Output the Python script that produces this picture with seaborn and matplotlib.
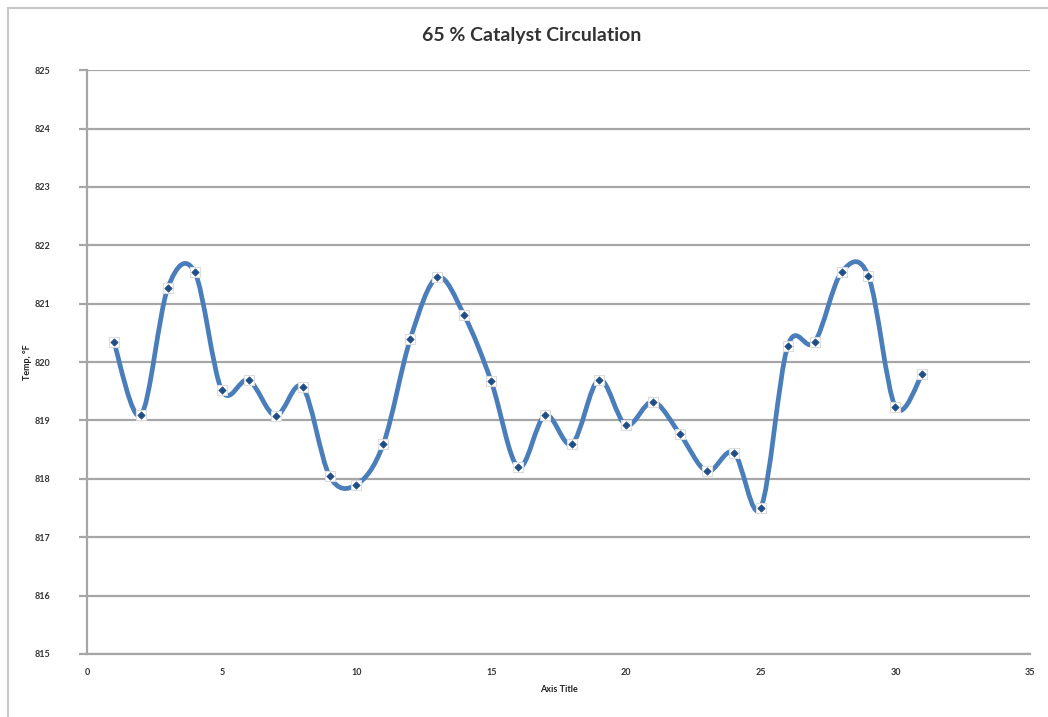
import numpy as np
import pandas as pd
import seaborn as sns
import matplotlib.pyplot as plt
from matplotlib.path import Path
from matplotlib.patches import PathPatch
from matplotlib.lines import Line2D

# data
sample = list(range(1, 32))
temp_f = [820.34, 819.09, 821.27, 821.54, 819.52, 819.69, 819.08, 819.57, 818.05, 817.90,
          818.60, 820.40, 821.45, 820.80, 819.67, 818.20, 819.09, 818.60, 819.70, 818.92,
          819.32, 818.77, 818.13, 818.45, 817.50, 820.27, 820.34, 821.54, 821.47, 819.23,
          819.80]
x_ticks = [0, 5, 10, 15, 20, 25, 30, 35]
y_ticks = [815, 816, 817, 818, 819, 820, 821, 822, 823, 824, 825]

df = pd.DataFrame({'sample': sample, 'temp': temp_f})

sns.set_style('white')
plt.rcParams['font.family'] = ['Lato', 'DejaVu Sans']

fig = plt.figure(figsize=(10.48, 7.17), dpi=100)
ax = fig.add_axes([0.083, 0.088, 0.900, 0.814])

line_col = '#4a7ebb'
grid_col = '#a6a6a6'

# smoothed line like Excel (cubic bezier through the points)
pts = df[['sample', 'temp']].to_numpy()
verts = [tuple(pts[0])]
codes = [Path.MOVETO]
for i in range(len(pts) - 1):
    p0 = pts[i - 1] if i > 0 else pts[i]
    p1 = pts[i]
    p2 = pts[i + 1]
    p3 = pts[i + 2] if i + 2 < len(pts) else pts[i + 1]
    c1 = p1 + (p2 - p0) / 6
    c2 = p2 - (p3 - p1) / 6
    verts += [tuple(c1), tuple(c2), tuple(p2)]
    codes += [Path.CURVE4] * 3
ax.add_patch(PathPatch(Path(verts, codes), facecolor='none', edgecolor=line_col,
                       lw=3.4, capstyle='round', zorder=3))

# markers: white box with a small dark point
sns.scatterplot(data=df, x='sample', y='temp', marker='s', s=60, color='white',
                edgecolor='#dcdcdc', linewidth=0.8, ax=ax, zorder=4)
sns.scatterplot(data=df, x='sample', y='temp', marker='D', s=14, color='#1f4e86',
                edgecolor='#1f4e86', linewidth=0.5, ax=ax, zorder=5)

ax.set_xlim(0, 35)
ax.set_ylim(815, 825)
ax.set_xticks(x_ticks)
ax.set_yticks(y_ticks)
ax.set_xticklabels([str(t) for t in x_ticks])
ax.set_yticklabels([str(t) for t in y_ticks])

ax.grid(axis='y', color=grid_col, lw=1.6)
ax.grid(axis='x', visible=False)
ax.set_axisbelow(True)
for s in ['top', 'right']:
    ax.spines[s].set_visible(False)
for s in ['left', 'bottom']:
    ax.spines[s].set_color(grid_col)
    ax.spines[s].set_linewidth(1.6)

ax.tick_params(axis='y', length=6, width=1.6, color=grid_col, labelsize=6.5,
               labelcolor='#333333', pad=20, left=True)
ax.tick_params(axis='x', length=0, labelsize=6.5, labelcolor='#333333', pad=10)
for lab in ax.get_xticklabels() + ax.get_yticklabels():
    lab.set_fontweight('bold')

ax.set_xlabel('Axis Title', fontsize=6.5, fontweight='bold', color='#222222', labelpad=6)
ax.set_ylabel('Temp, °F', fontsize=6.5, fontweight='bold', color='#222222')
ax.yaxis.set_label_coords(-0.058, 0.5)

fig.suptitle('65 % Catalyst Circulation', x=0.507, y=0.963, fontsize=14,
             fontweight='bold', color='#333333')

# chart-area border
fig.add_artist(Line2D([0.008, 1.0], [0.989, 0.989], color='#c8c8c8', lw=1.5))
fig.add_artist(Line2D([0.008, 0.008], [0.0, 0.989], color='#c8c8c8', lw=1.5))

fig.savefig('out.png', dpi=100)
